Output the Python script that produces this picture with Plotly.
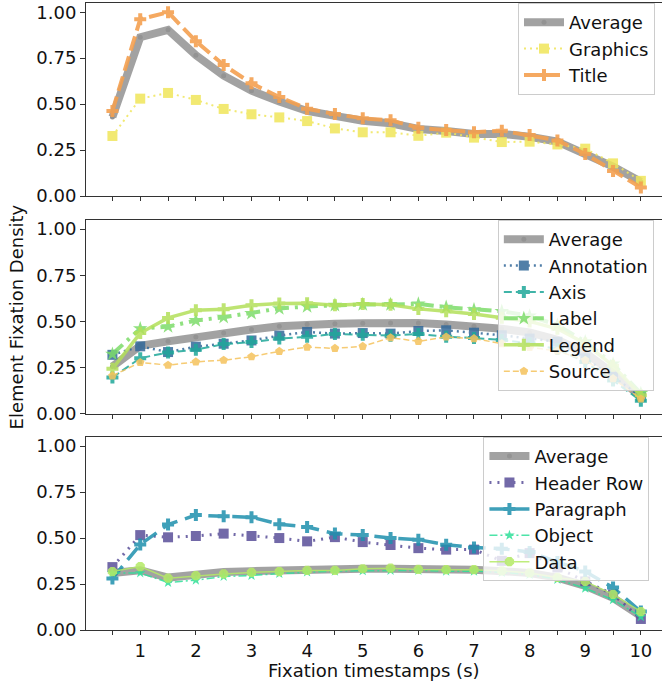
import plotly.graph_objects as go

t = [0.5, 1, 1.5, 2, 2.5, 3, 3.5, 4, 4.5, 5, 5.5, 6, 6.5, 7, 7.5, 8, 8.5, 9, 9.5, 10]
x_tick_vals = t
x_tick_text = ["" if v != int(v) else str(int(v)) for v in t]
y_tick_vals = [0, 0.25, 0.5, 0.75, 1.0]
y_tick_text = ["0.00", "0.25", "0.50", "0.75", "1.00"]

# Panel 1
avg1 = [0.43, 0.864, 0.904, 0.766, 0.655, 0.573, 0.514, 0.463, 0.436, 0.41, 0.396, 0.365, 0.354, 0.338, 0.338, 0.323, 0.296, 0.232, 0.16, 0.078]
graphics = [0.327, 0.53, 0.561, 0.523, 0.474, 0.445, 0.428, 0.408, 0.368, 0.347, 0.347, 0.328, 0.345, 0.318, 0.294, 0.296, 0.281, 0.258, 0.178, 0.083]
title = [0.463, 0.962, 1.0, 0.842, 0.713, 0.613, 0.539, 0.475, 0.446, 0.423, 0.412, 0.372, 0.359, 0.347, 0.356, 0.332, 0.303, 0.229, 0.136, 0.047]

# Panel 2
avg2 = [0.256, 0.368, 0.392, 0.416, 0.437, 0.456, 0.474, 0.485, 0.488, 0.49, 0.492, 0.492, 0.483, 0.474, 0.46, 0.44, 0.40, 0.33, 0.22, 0.09]
annotation = [0.319, 0.365, 0.334, 0.363, 0.379, 0.397, 0.423, 0.443, 0.434, 0.437, 0.434, 0.448, 0.452, 0.439, 0.425, 0.407, 0.39, 0.30, 0.20, 0.093]
axis_ = [0.196, 0.301, 0.332, 0.347, 0.377, 0.388, 0.407, 0.417, 0.432, 0.428, 0.423, 0.432, 0.417, 0.41, 0.40, 0.38, 0.35, 0.28, 0.18, 0.07]
label = [0.323, 0.461, 0.472, 0.505, 0.523, 0.544, 0.57, 0.581, 0.588, 0.592, 0.592, 0.595, 0.577, 0.564, 0.555, 0.53, 0.48, 0.39, 0.27, 0.11]
legend_ = [0.243, 0.437, 0.519, 0.561, 0.566, 0.588, 0.597, 0.599, 0.588, 0.595, 0.59, 0.568, 0.555, 0.54, 0.52, 0.50, 0.46, 0.38, 0.26, 0.10]
source = [0.205, 0.278, 0.263, 0.281, 0.29, 0.309, 0.338, 0.361, 0.354, 0.365, 0.412, 0.392, 0.416, 0.407, 0.38, 0.36, 0.34, 0.29, 0.19, 0.08]

# Panel 3
avg3 = [0.31, 0.325, 0.285, 0.305, 0.315, 0.32, 0.325, 0.33, 0.33, 0.333, 0.333, 0.333, 0.33, 0.328, 0.32, 0.31, 0.285, 0.24, 0.175, 0.075]
header_row = [0.342, 0.516, 0.504, 0.511, 0.524, 0.511, 0.5, 0.482, 0.505, 0.478, 0.462, 0.445, 0.437, 0.437, 0.376, 0.418, 0.34, 0.264, 0.194, 0.06]
paragraph = [0.28, 0.465, 0.573, 0.625, 0.618, 0.613, 0.575, 0.56, 0.524, 0.516, 0.5, 0.491, 0.464, 0.449, 0.442, 0.424, 0.37, 0.318, 0.231, 0.1]
object_ = [0.31, 0.31, 0.258, 0.271, 0.291, 0.296, 0.307, 0.315, 0.32, 0.322, 0.324, 0.324, 0.32, 0.32, 0.313, 0.302, 0.275, 0.227, 0.164, 0.072]
data = [0.318, 0.345, 0.282, 0.295, 0.305, 0.313, 0.318, 0.324, 0.324, 0.333, 0.336, 0.329, 0.328, 0.328, 0.322, 0.31, 0.286, 0.264, 0.194, 0.1]

FONT = "DejaVu Sans"
fig = go.Figure()


def add(y, name, color, width, dash, symbol, msize, panel, opacity=0.85):
    ya = "y" if panel == 1 else f"y{panel}"
    xa = "x" if panel == 1 else f"x{panel}"
    lg = "legend" if panel == 1 else f"legend{panel}"
    fig.add_trace(go.Scatter(
        x=t, y=y, name=name, mode="lines+markers", xaxis=xa, yaxis=ya, legend=lg,
        line=dict(color=color, width=width, dash=dash),
        marker=dict(color=color, size=msize, symbol=symbol, line=dict(width=0)),
        opacity=opacity,
    ))


AVG_C = "#999999"
for p, avg in ((1, avg1), (2, avg2), (3, avg3)):
    ya = "y" if p == 1 else f"y{p}"
    xa = "x" if p == 1 else f"x{p}"
    lg = "legend" if p == 1 else f"legend{p}"
    fig.add_trace(go.Scatter(
        x=t, y=avg, name="Average", mode="lines+markers", xaxis=xa, yaxis=ya, legend=lg,
        line=dict(color=AVG_C, width=8), marker=dict(color="#888888", size=5),
        opacity=0.9,
    ))
    if p == 1:
        add(graphics, "Graphics", "#f0e65a", 2, "2px,4px", "square", 10, 1)
        add(title, "Title", "#f4a050", 4, "15px,6px", "cross", 10, 1, 0.9)
    elif p == 2:
        add(annotation, "Annotation", "#33699a", 2.5, "2px,4px", "square", 10, 2)
        add(axis_, "Axis", "#1fa89a", 2, "8px,4px", "cross", 10, 2)
        add(label, "Label", "#7ddc6a", 4, "14px,6px,3px,6px", "star", 11, 2)
        add(legend_, "Legend", "#b3e05a", 3.5, "solid", "cross", 10, 2)
        add(source, "Source", "#f5c35c", 1.5, "6px,3px", "pentagon", 9, 2)
    else:
        add(header_row, "Header Row", "#5a4f99", 3, "2px,6px", "square", 10, 3)
        add(paragraph, "Paragraph", "#1e90ad", 3.5, "16px,8px", "cross", 10, 3)
        add(object_, "Object", "#2ee09a", 1.5, "8px,3px,2px,3px", "star", 8, 3)
        add(data, "Data", "#b5eb66", 1.5, "solid", "octagon", 10, 3)

domains = {1: [0.692, 1.0], 2: [0.345, 0.654], 3: [0.0, 0.308]}
for p in (1, 2, 3):
    sfx = "" if p == 1 else str(p)
    fig.layout["xaxis" + sfx] = dict(
        range=[0.025, 10.38], tickvals=x_tick_vals,
        ticktext=x_tick_text if p == 3 else [""] * len(t),
        ticks="outside", ticklen=4, tickcolor="#333", showgrid=False, zeroline=False,
        showline=True, linecolor="#333", linewidth=1, mirror=True,
        anchor="y" + sfx, tickfont=dict(size=18, family=FONT, color="#111"),
    )
    fig.layout["yaxis" + sfx] = dict(
        domain=domains[p], range=[0, 1.05], tickvals=y_tick_vals, ticktext=y_tick_text,
        ticks="outside", ticklen=5, tickcolor="#333", showgrid=False, zeroline=False,
        showline=True, linecolor="#333", linewidth=1, mirror=True,
        anchor="x" + sfx, tickfont=dict(size=18, family=FONT, color="#111"),
    )

leg_common = dict(bgcolor="rgba(255,255,255,0.8)", bordercolor="#cccccc", borderwidth=1,
                  font=dict(size=18, family=FONT, color="#111"), xanchor="left", yanchor="top",
                  itemwidth=40, tracegroupgap=0)
fig.update_layout(
    legend=dict(x=0.75, y=1.0, **leg_common),
    legend2=dict(x=0.715, y=0.654, **leg_common),
    legend3=dict(x=0.69, y=0.308, **leg_common),
)

fig.update_layout(
    width=662, height=684,
    margin=dict(l=86, r=0, t=3, b=54, autoexpand=False),
    plot_bgcolor="white", paper_bgcolor="white",
    font=dict(family=FONT, size=18, color="#111"),
    annotations=[
        dict(text="Fixation timestamps (s)", x=0.5, y=-0.0845, xref="paper", yref="paper",
             xanchor="center", yanchor="bottom", showarrow=False, font=dict(size=18, family=FONT)),
        dict(text="Element Fixation Density", x=-0.12, y=0.5, xref="paper", yref="paper",
             textangle=-90, xanchor="center", yanchor="middle", showarrow=False,
             font=dict(size=18, family=FONT)),
    ],
)

fig.write_html("out.html", config={"displayModeBar": False},
               post_script="document.body.style.margin='0';document.body.style.overflow='hidden';")
